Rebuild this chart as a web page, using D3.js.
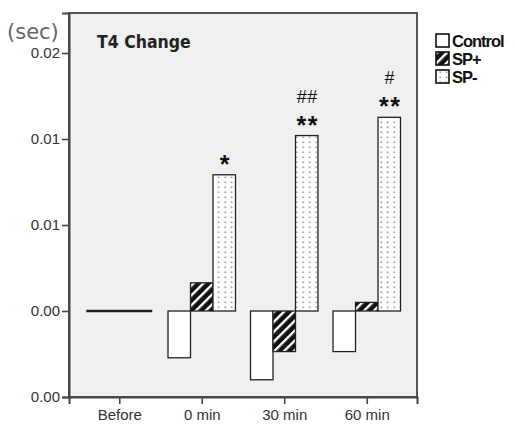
<!DOCTYPE html>
<html>
<head>
<meta charset="utf-8">
<script src="https://cdn.jsdelivr.net/npm/d3@7"></script>
<style>
  html, body { margin: 0; padding: 0; background: #fff; }
  svg { display: block; }
</style>
</head>
<body>
<div id="chart"></div>
<script>
const categories = ['Before', '0 min', '30 min', '60 min'];
const seriesNames = ['Control', 'SP+', 'SP-'];
const control = [0, -0.00272, -0.0040, -0.00236];
const spPlus = [0, 0.00164, -0.00236, 0.0005];
const spMinus = [0, 0.00792, 0.0102, 0.01126];
const starMarks = ['', '*', '**', '**'];
const hashMarks = ['', '', '##', '#'];
const tickValues = [-0.005, 0, 0.005, 0.01, 0.015];
const tickLabels = ['0.00', '0.00', '0.01', '0.01', '0.02'];

const width = 515, height = 425;
const plotLeft = 69, plotRight = 417, plotTop = 13, plotBottom = 397;

const svg = d3.select('#chart').append('svg')
  .attr('width', width).attr('height', height);

const defs = svg.append('defs');
// hatch for SP+
const hatch = defs.append('pattern')
  .attr('id', 'hatch').attr('patternUnits', 'userSpaceOnUse')
  .attr('width', 7).attr('height', 7)
  .attr('patternTransform', 'rotate(45)');
hatch.append('rect').attr('width', 7).attr('height', 7).attr('fill', '#111');
hatch.append('rect').attr('x', 0).attr('width', 2.4).attr('height', 7).attr('fill', '#fff');
// dots for SP-
const dots = defs.append('pattern')
  .attr('id', 'dots').attr('patternUnits', 'userSpaceOnUse')
  .attr('x', 1).attr('width', 6.5).attr('height', 5);
dots.append('rect').attr('width', 6.5).attr('height', 5).attr('fill', '#fff');
dots.append('rect').attr('x', 2.5).attr('y', 1.5).attr('width', 1.4).attr('height', 1.6).attr('fill', '#8a8a8a');

const y = d3.scaleLinear().domain([-0.005, 0.017326]).range([plotBottom, plotTop]);
const x = d3.scalePoint().domain(categories).range([plotLeft, plotRight]).padding(0.609);
const inner = d3.scaleBand().domain(seriesNames).range([-33.75, 33.75]);

// plot background and frame
svg.append('rect')
  .attr('x', plotLeft).attr('y', plotTop)
  .attr('width', plotRight - plotLeft).attr('height', plotBottom - plotTop)
  .attr('fill', '#f0f0f0').attr('stroke', '#555').attr('stroke-width', 2);

const fills = { 'Control': '#fff', 'SP+': 'url(#hatch)', 'SP-': 'url(#dots)' };
const seriesData = { 'Control': control, 'SP+': spPlus, 'SP-': spMinus };

const rows = [];
categories.forEach((c, i) => {
  seriesNames.forEach(s => rows.push({ cat: c, series: s, value: seriesData[s][i] }));
});

svg.append('g').selectAll('rect')
  .data(rows.filter(d => d.value !== 0))
  .join('rect')
  .attr('x', d => x(d.cat) + inner(d.series))
  .attr('y', d => y(Math.max(0, d.value)))
  .attr('width', inner.bandwidth())
  .attr('height', d => Math.abs(y(d.value) - y(0)))
  .attr('fill', d => fills[d.series])
  .attr('stroke', '#222').attr('stroke-width', 1.3);

// zero-value groups drawn as a flat line
categories.forEach((c, i) => {
  if (seriesNames.every(s => seriesData[s][i] === 0)) {
    svg.append('line')
      .attr('x1', x(c) - 33).attr('x2', x(c) + 33)
      .attr('y1', y(0)).attr('y2', y(0))
      .attr('stroke', '#222').attr('stroke-width', 2.4);
  }
});

// significance marks
const marks = svg.append('g').attr('font-family', 'Liberation Sans, Arial, sans-serif')
  .attr('fill', '#111').attr('text-anchor', 'middle');
categories.forEach((c, i) => {
  const cx = x(c) + inner('SP-') + inner.bandwidth() / 2;
  const ty = y(spMinus[i]);
  if (starMarks[i]) {
    marks.append('text').attr('x', cx + 1).attr('y', ty - 2)
      .attr('font-size', 25).attr('font-weight', 'bold')
      .attr('letter-spacing', 1.5).text(starMarks[i]);
  }
  if (hashMarks[i]) {
    marks.append('text').attr('x', cx + 0.5).attr('y', ty - 33)
      .attr('font-size', 18).attr('letter-spacing', 0.5).text(hashMarks[i]);
  }
});

// y axis
const yAxis = svg.append('g').attr('transform', `translate(${plotLeft},0)`)
  .call(d3.axisLeft(y).tickValues(tickValues).tickSize(7).tickPadding(2)
    .tickFormat((d, i) => tickLabels[i]));
yAxis.select('.domain').attr('stroke', '#444').attr('stroke-width', 2);
yAxis.selectAll('.tick line').attr('stroke', '#444').attr('stroke-width', 1.6);
yAxis.selectAll('.tick text').attr('font-family', 'Liberation Sans, Arial, sans-serif')
  .attr('font-size', 15).attr('fill', '#333');

// x axis
const xAxis = svg.append('g').attr('transform', `translate(0,${plotBottom})`)
  .call(d3.axisBottom(x).tickSize(7).tickPadding(5));
xAxis.select('.domain').attr('stroke', '#444').attr('stroke-width', 2);
xAxis.selectAll('.tick line').attr('stroke', '#444').attr('stroke-width', 1.6);
xAxis.selectAll('.tick text').attr('font-family', 'Liberation Sans, Arial, sans-serif')
  .attr('font-size', 15).attr('fill', '#333');

// title and unit
svg.append('text').attr('x', 97).attr('y', 48)
  .attr('font-family', 'DejaVu Sans Condensed, DejaVu Sans, sans-serif')
  .attr('font-weight', 'bold').attr('font-size', 17.5).attr('fill', '#222')
  .text('T4 Change');
svg.append('text').attr('x', 7).attr('y', 39)
  .attr('font-family', 'DejaVu Sans, sans-serif')
  .attr('font-size', 21).attr('fill', '#666')
  .text('(sec)');

// legend
const legend = svg.append('g').attr('transform', 'translate(436,34)');
seriesNames.forEach((s, i) => {
  const g = legend.append('g').attr('transform', `translate(0,${i * 18})`);
  g.append('rect').attr('width', 13).attr('height', 13)
    .attr('fill', fills[s]).attr('stroke', '#111').attr('stroke-width', 1.6);
  g.append('text').attr('x', 16).attr('y', 12.5)
    .attr('font-family', 'Liberation Sans, Arial, sans-serif')
    .attr('font-weight', 'bold').attr('font-size', 16.5)
    .attr('letter-spacing', -1).attr('fill', '#111')
    .text(s);
});
</script>
</body>
</html>
